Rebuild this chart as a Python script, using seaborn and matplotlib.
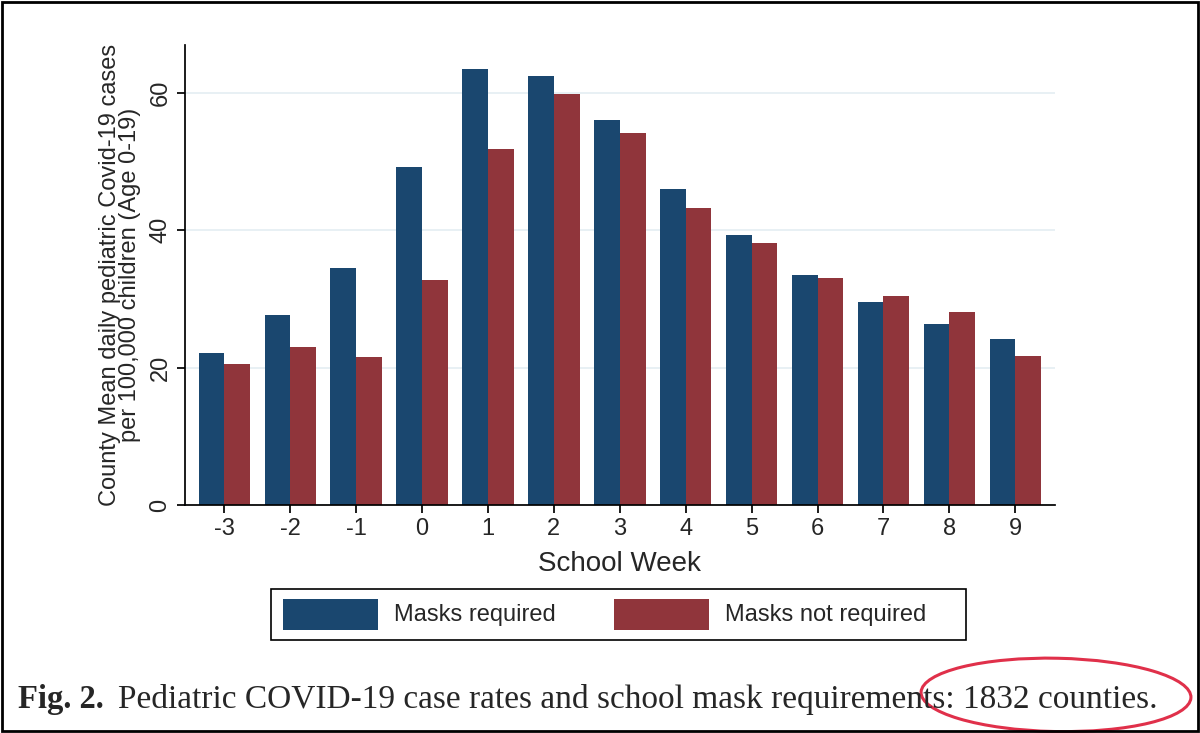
import pandas as pd
import matplotlib.pyplot as plt
import seaborn as sns
from matplotlib.patches import Ellipse, Rectangle

weeks = ["-3", "-2", "-1", "0", "1", "2", "3", "4", "5", "6", "7", "8", "9"]
masks_required = [22.2, 27.7, 34.5, 49.2, 63.5, 62.5, 56.0, 46.0, 39.3, 33.5, 29.5, 26.4, 24.2]
masks_not_required = [20.6, 23.0, 21.6, 32.7, 51.8, 59.8, 54.2, 43.3, 38.2, 33.0, 30.4, 28.1, 21.7]
groups = ["Masks required", "Masks not required"]
colors = ["#1a476f", "#90353b"]

df = pd.DataFrame({
    "week": weeks * 2,
    "rate": masks_required + masks_not_required,
    "group": [groups[0]] * len(weeks) + [groups[1]] * len(weeks),
})

sns.set_theme(style="white")
plt.rcParams['font.family'] = ['Liberation Sans', 'DejaVu Sans']

fig = plt.figure(figsize=(12, 7.33), dpi=100)
ax = fig.add_axes([0.154, 0.311, 0.725, 0.628])

sns.barplot(data=df, x="week", y="rate", hue="group", palette=colors,
            width=0.78, saturation=1, ax=ax, legend=False, linewidth=0)

ax.set_ylim(0, 67)
ax.set_xlim(-0.6, 12.6)
ax.set_yticks([0, 20, 40, 60])
ax.set_yticklabels(["0", "20", "40", "60"], rotation=90, va="center", fontsize=17)
ax.tick_params(axis="x", labelsize=17, length=6, color="black", bottom=True)
ax.tick_params(axis="y", length=6, color="black", left=True)
ax.yaxis.grid(True, color="#e4eef2", linewidth=1.2)
ax.set_axisbelow(True)
for s in ["top", "right"]:
    ax.spines[s].set_visible(False)
for s in ["left", "bottom"]:
    ax.spines[s].set_color("black")
ax.set_xlabel("School Week", fontsize=20, labelpad=8)
ax.set_ylabel("County Mean daily pediatric Covid-19 cases\nper 100,000 children (Age 0-19)",
              fontsize=17, linespacing=0.9, labelpad=6)

# legend box
fig.patches.append(Rectangle((0.226, 0.127), 0.579, 0.07, transform=fig.transFigure,
                             fill=False, edgecolor="black", linewidth=1.2))
for i, (g, c) in enumerate(zip(groups, colors)):
    x0 = 0.236 + i * 0.276
    fig.patches.append(Rectangle((x0, 0.141), 0.079, 0.042, transform=fig.transFigure,
                                 facecolor=c, edgecolor="none"))
    fig.text(x0 + 0.092, 0.161, g, fontsize=17, va="center")

# caption
serif = ["Liberation Serif", "DejaVu Serif"]
fig.text(0.015, 0.046, "Fig. 2.", fontsize=23.5, fontweight="bold", family=serif, va="center")
fig.text(0.098, 0.046, "Pediatric COVID-19 case rates and school mask requirements: 1832 counties.",
         fontsize=24, family=serif, va="center")
fig.patches.append(Ellipse((0.88, 0.052), 0.225, 0.1, transform=fig.transFigure,
                           fill=False, edgecolor="#e0304a", linewidth=2.2, angle=-2))

# outer border
fig.patches.append(Rectangle((0.002, 0.003), 0.996, 0.994, transform=fig.transFigure,
                             fill=False, edgecolor="black", linewidth=2))

fig.savefig("out.png", dpi=100)
